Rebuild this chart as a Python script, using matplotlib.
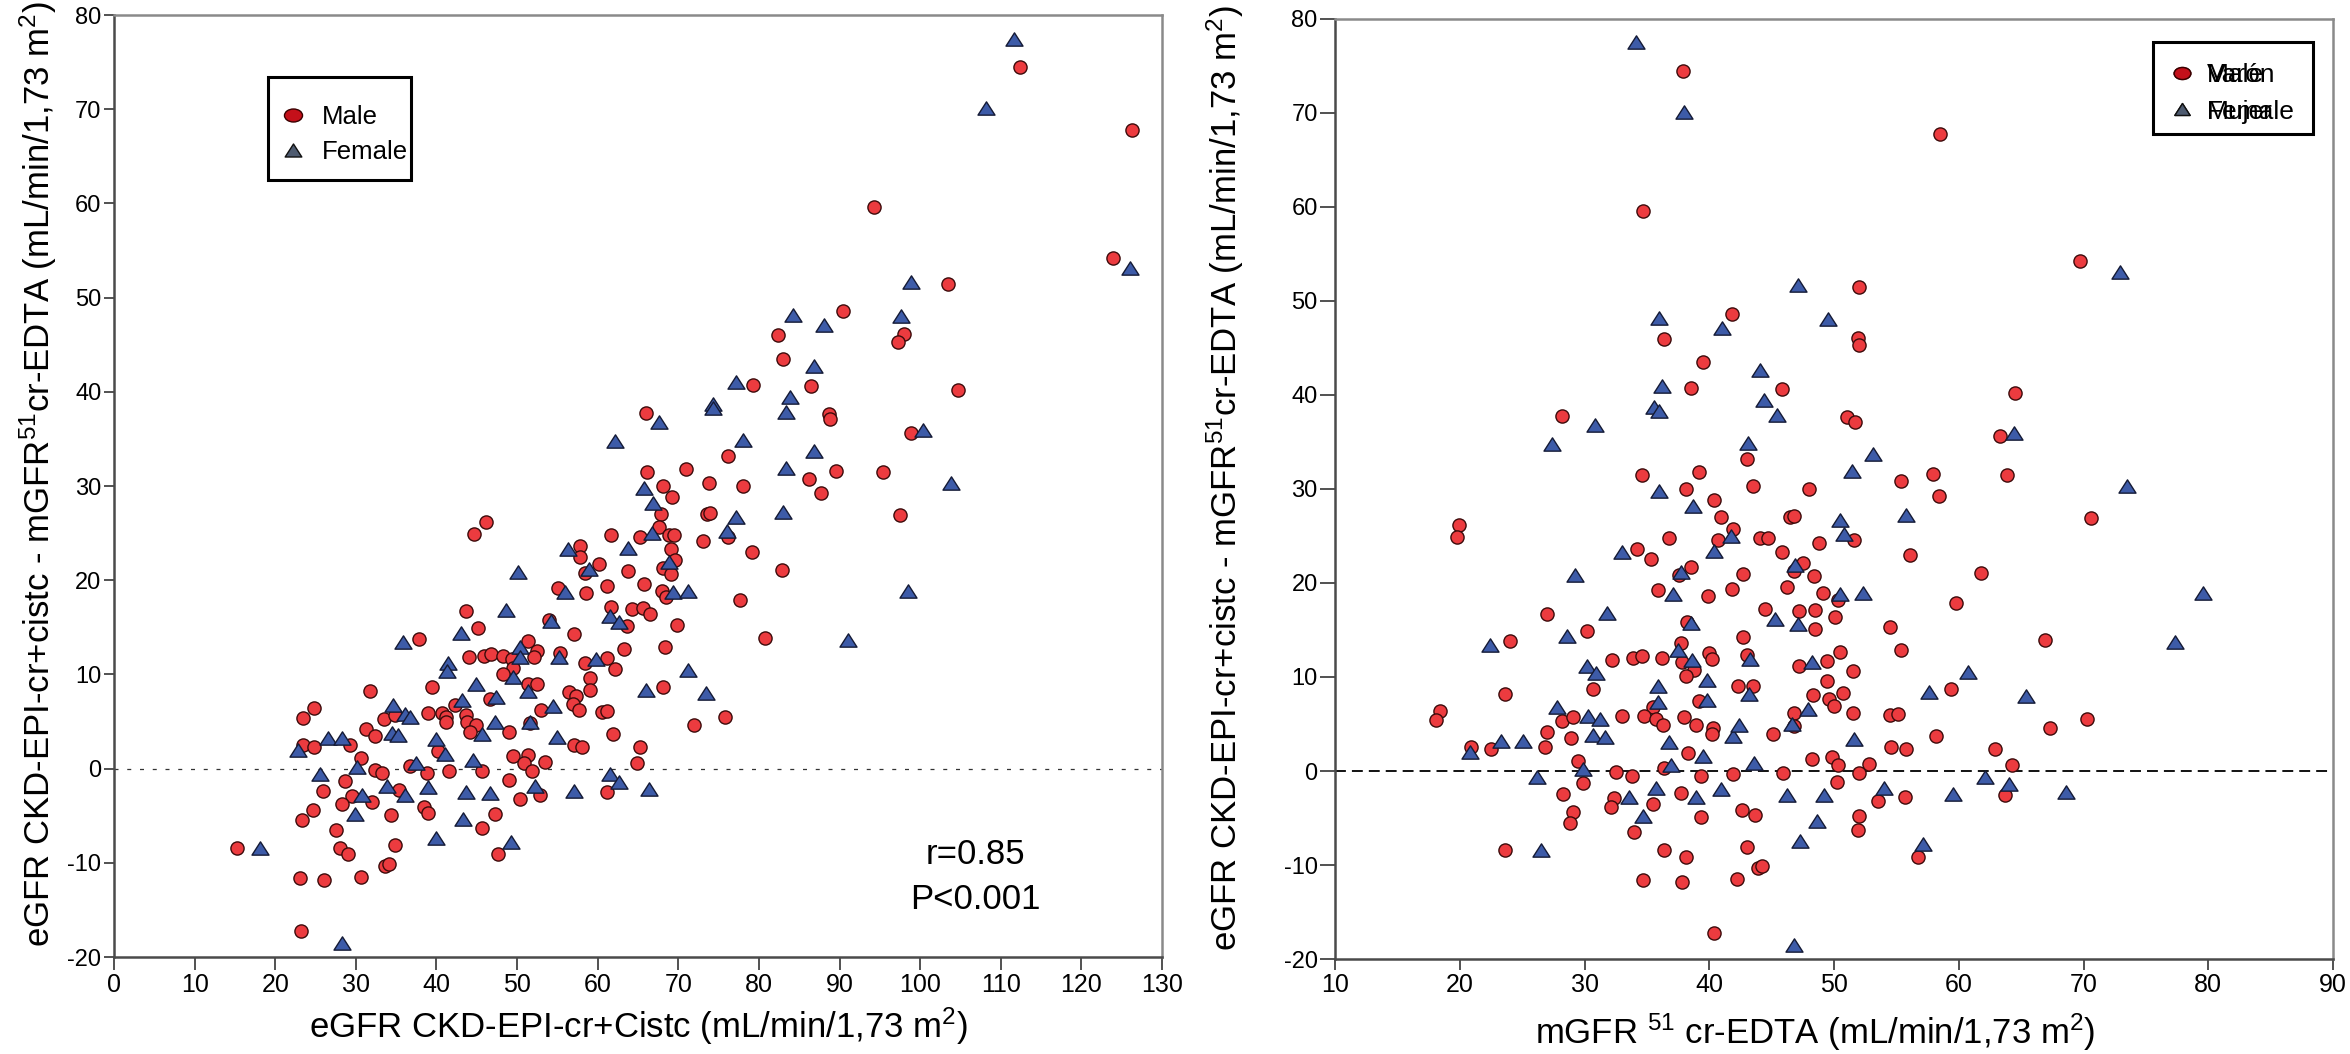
"""
    Bias of eGFR CKD-EPI-cr+cistc against measured 51Cr-EDTA GFR, by sex.
"""
import numpy as np
import matplotlib
matplotlib.use("Agg")
import matplotlib.pyplot as plt
from matplotlib.lines import Line2D
from matplotlib.patches import Rectangle
from matplotlib.path import Path

plt.rcParams["font.family"] = ["Liberation Sans", "DejaVu Sans"]
plt.rcParams["mathtext.fontset"] = "custom"
plt.rcParams["mathtext.rm"] = "Liberation Sans"
plt.rcParams["mathtext.it"] = "Liberation Sans:italic"
plt.rcParams["mathtext.bf"] = "Liberation Sans:bold"
plt.rcParams["axes.unicode_minus"] = False

# eGFR CKD-EPI-cr+cistc and the difference eGFR - mGFR
MALE_EGFR = [43.7, 45.1, 37.8, 44.0, 45.9, 46.8, 39.4, 31.8, 42.3, 46.6,
             24.8, 23.5, 33.5, 34.8, 38.9, 40.7, 41.2, 41.2, 43.7, 43.8,
             44.9, 44.1, 31.2, 32.4, 40.2, 29.3, 23.4, 24.8, 30.6, 32.4,
             33.3, 36.7, 38.8, 41.6, 45.7, 28.6, 25.9, 35.4, 29.5, 32.0,
             28.3, 34.4, 38.5, 39.0, 47.2, 24.7, 23.3, 45.6, 27.5, 34.9,
             28.0, 29.0, 47.6, 15.2, 33.6, 34.1, 23.1, 26.0, 30.7, 23.2,
             58.4, 60.2, 63.7, 68.1, 69.1, 82.9, 55.1, 58.5, 61.2, 65.8,
             68.0, 68.5, 77.7, 61.7, 64.2, 65.6, 66.5, 63.6, 69.8, 54.0,
             57.0, 51.3, 80.8, 52.5, 52.1, 48.2, 49.4, 55.3, 63.2, 68.3,
             58.4, 61.1, 62.1, 49.5, 48.2, 59.0, 59.0, 51.3, 52.5, 56.4,
             57.3, 56.9, 57.7, 53.0, 60.5, 61.2, 68.1, 75.8, 71.9, 51.6,
             49.0, 61.9, 57.1, 58.1, 65.2, 49.5, 51.3, 50.9, 53.5, 51.8,
             64.9, 61.2, 49.0, 52.9, 50.3,
             82.4, 83.0, 79.2, 86.4, 66.0, 76.2, 86.2, 66.1, 71.0, 68.1,
             69.2, 73.8, 78.0, 67.9, 73.5, 73.9, 46.1, 44.7, 61.6, 65.3,
             67.6, 68.9, 69.5, 76.2, 73.0, 79.1, 57.8, 57.8, 69.1, 69.6,
             112.4, 126.3, 94.3, 123.9, 103.5, 90.4, 98.0, 97.3, 104.7, 88.7,
             88.8, 98.9, 89.5, 95.4, 87.7, 97.5]
MALE_DIFF = [16.7, 14.9, 13.8, 11.8, 12.0, 12.2, 8.7, 8.2, 6.8, 7.4,
             6.4, 5.4, 5.3, 5.7, 5.9, 5.9, 5.5, 4.9, 5.7, 4.9,
             4.6, 3.9, 4.2, 3.5, 1.9, 2.5, 2.5, 2.3, 1.1, -0.1,
             -0.5, 0.3, -0.5, -0.3, -0.2, -1.3, -2.4, -2.3, -2.9, -3.5,
             -3.8, -4.9, -4.1, -4.7, -4.8, -4.4, -5.5, -6.3, -6.5, -8.1,
             -8.4, -9.1, -9.1, -8.4, -10.3, -10.1, -11.6, -11.8, -11.5, -17.2,
             20.8, 21.7, 21.0, 21.3, 20.7, 21.1, 19.2, 18.6, 19.4, 19.6,
             18.9, 18.2, 17.9, 17.2, 17.0, 17.1, 16.4, 15.1, 15.3, 15.8,
             14.3, 13.6, 13.9, 12.5, 11.9, 12.0, 11.6, 12.3, 12.7, 12.9,
             11.2, 11.7, 10.6, 10.7, 10.1, 9.6, 8.3, 9.0, 9.0, 8.1,
             7.7, 6.9, 6.2, 6.2, 6.0, 6.1, 8.7, 5.5, 4.6, 4.8,
             3.9, 3.7, 2.5, 2.3, 2.3, 1.3, 1.5, 0.6, 0.7, -0.2,
             0.6, -2.5, -1.2, -2.8, -3.2,
             46.0, 43.5, 40.7, 40.6, 37.8, 33.2, 30.8, 31.5, 31.8, 30.0,
             28.8, 30.3, 30.0, 27.0, 27.0, 27.1, 26.2, 24.9, 24.8, 24.6,
             25.7, 24.8, 24.8, 24.6, 24.2, 23.0, 23.6, 22.5, 23.3, 22.1,
             74.5, 67.8, 59.6, 54.2, 51.5, 48.6, 46.1, 45.3, 40.2, 37.7,
             37.1, 35.6, 31.6, 31.5, 29.3, 26.9]

FEMALE_EGFR = [43.0, 35.8, 41.4, 41.3, 44.9, 43.2, 47.4, 34.6, 36.1, 36.7,
               45.6, 47.3, 34.5, 35.2, 39.9, 41.1, 26.5, 28.3, 22.8, 30.1,
               37.5, 44.5, 25.6, 33.9, 36.1, 39.0, 43.7, 46.6, 30.8, 29.9,
               43.3, 39.9, 18.1, 28.3,
               50.1, 58.9, 68.8, 55.9, 69.3, 71.2, 48.6, 61.5, 62.7, 54.2,
               50.4, 50.4, 55.2, 59.8, 71.2, 49.5, 51.4, 54.5, 66.0, 73.4,
               51.6, 55.0, 61.5, 62.6, 66.4, 57.1, 52.2, 49.3,
               84.2, 86.8, 77.2, 83.9, 83.3, 74.3, 74.3, 67.6, 62.2, 78.0,
               86.8, 83.3, 65.8, 66.9, 77.2, 83.0, 66.7, 76.0, 56.3, 63.8,
               111.6, 108.1, 126.0, 98.8, 88.1, 97.6, 100.3, 103.8, 98.5, 91.0]
FEMALE_DIFF = [14.4, 13.4, 11.2, 10.4, 9.0, 7.3, 7.6, 6.8, 5.8, 5.5,
               3.7, 4.9, 3.8, 3.6, 3.1, 1.6, 3.2, 3.2, 2.0, 0.2,
               0.6, 0.9, -0.6, -1.8, -2.8, -1.9, -2.5, -2.6, -2.8, -4.8,
               -5.3, -7.4, -8.4, -18.5,
               20.9, 21.2, 21.9, 18.8, 18.8, 18.9, 16.8, 16.2, 15.6, 15.7,
               12.9, 11.8, 11.9, 11.6, 10.5, 9.7, 8.2, 6.6, 8.4, 8.0,
               5.0, 3.4, -0.6, -1.4, -2.2, -2.4, -1.8, -7.8,
               48.2, 42.7, 41.0, 39.5, 37.9, 38.7, 38.3, 36.8, 34.8, 34.9,
               33.7, 31.9, 29.8, 28.2, 26.7, 27.2, 25.0, 25.2, 23.3, 23.4,
               77.5, 70.1, 53.1, 51.7, 47.1, 48.1, 35.9, 30.3, 18.9, 13.7]

# mGFR 51Cr-EDTA follows from the y axis definition: diff = eGFR - mGFR
MALE_MGFR = np.array(MALE_EGFR) - np.array(MALE_DIFF)
FEMALE_MGFR = np.array(FEMALE_EGFR) - np.array(FEMALE_DIFF)

LEFT_XTICKS = list(range(0, 131, 10))
RIGHT_XTICKS = list(range(10, 91, 10))
YTICKS = list(range(-20, 81, 10))

YLABEL = "eGFR CKD-EPI-cr+cistc - mGFR$^{51}$cr-EDTA (mL/min/1,73 m$^{2}$)"
LEFT_XLABEL = "eGFR CKD-EPI-cr+Cistc (mL/min/1,73 m$^{2}$)"
RIGHT_XLABEL = "mGFR $^{51}$ cr-EDTA (mL/min/1,73 m$^{2}$)"

TRIANGLE = Path([(-1.0, -0.78), (1.0, -0.78), (0.0, 0.78), (-1.0, -0.78)], closed=True)
_circ = Path.unit_circle()
FLAT_CIRCLE = Path(_circ.vertices * np.array([1.0, 0.72]), _circ.codes)

MALE_FACE, MALE_EDGE = "#ec3b3f", "#3c0b0b"
FEMALE_FACE, FEMALE_EDGE = "#3d5ba8", "#141a35"


def draw_points(axes, male_x, female_x):
    """
        Scatter both sexes on one panel.
    """
    axes.scatter(male_x, MALE_DIFF, s=90, marker="o", facecolor=MALE_FACE,
                 edgecolor=MALE_EDGE, linewidths=1.0, zorder=3)
    axes.scatter(female_x, FEMALE_DIFF, s=150, marker=TRIANGLE, facecolor=FEMALE_FACE,
                 edgecolor=FEMALE_EDGE, linewidths=1.0, zorder=3)


def style_axes(axes, xticks, xlen, ylen):
    """
        Frame, ticks and limits like the SPSS output.
    """
    axes.set_xlim(xticks[0], xticks[-1])
    axes.set_ylim(-20, 80)
    axes.set_xticks(xticks)
    axes.set_yticks(YTICKS)
    for side in ("top", "right"):
        axes.spines[side].set_color("#8a8a8a")
        axes.spines[side].set_linewidth(1.8)
    for side in ("left", "bottom"):
        axes.spines[side].set_color("#4a4a4a")
        axes.spines[side].set_linewidth(1.8)
    axes.tick_params(axis="x", direction="out", length=xlen, width=1.2, color="#333333",
                     labelsize=18, pad=2)
    axes.tick_params(axis="y", direction="out", length=ylen, width=1.2, color="#333333",
                     labelsize=17, pad=2)


def legend_handles(size):
    """
        Proxy markers for the legend box.
    """
    male = Line2D([], [], ls="none", marker=FLAT_CIRCLE, markersize=size,
                  markerfacecolor="#c4101a", markeredgecolor="#3a0000", markeredgewidth=1.0)
    female = Line2D([], [], ls="none", marker=TRIANGLE, markersize=size - 1,
                    markerfacecolor="#4e5b70", markeredgecolor="#101010", markeredgewidth=1.0)
    return [male, female]


def add_legend(axes, labels, anchor, fontsize, msize, textpad, spacing):
    """
        Legend entries without frame; the box is drawn separately.
    """
    leg = axes.legend(legend_handles(msize), labels, loc="upper left", bbox_to_anchor=anchor,
                      borderaxespad=0, borderpad=0, fontsize=fontsize, frameon=False,
                      handlelength=0.8, handletextpad=textpad, labelspacing=spacing)
    return leg


def add_box(axes, x0, y0, x1, y1):
    """
        Thick black square around the legend.
    """
    axes.add_patch(Rectangle((x0, y0), x1 - x0, y1 - y0, transform=axes.transAxes,
                             fill=False, edgecolor="black", lw=2.2, zorder=5,
                             clip_on=False))


fig = plt.figure(figsize=(23.5, 10.54), dpi=100)
ax1 = fig.add_axes([0.0485, 0.092, 0.446, 0.8937])
ax2 = fig.add_axes([0.5681, 0.0901, 0.4247, 0.892])

# left panel: bias against eGFR
draw_points(ax1, MALE_EGFR, FEMALE_EGFR)
ax1.axhline(0, color="#333333", lw=0.9, ls=(0, (3.2, 7.0)), zorder=1)
style_axes(ax1, LEFT_XTICKS, 9.5, 7)
ax1.text(106.8, -9.1, "r=0.85", fontsize=25, ha="center", va="center")
ax1.text(106.8, -13.9, "P<0.001", fontsize=25, ha="center", va="center")
ax1.text(0.5, -0.086, LEFT_XLABEL, transform=ax1.transAxes, fontsize=25,
         ha="center", va="baseline")
ax1.text(-0.0611, 0.513, YLABEL, transform=ax1.transAxes, fontsize=25, rotation=90,
         rotation_mode="anchor", ha="center", va="baseline")
add_box(ax1, 0.147, 0.8248, 0.2834, 0.9342)
add_legend(ax1, ["Male", "Female"], (0.1613, 0.905), 18.5, 13, 0.72, 0.44)

# right panel: bias against measured GFR
draw_points(ax2, MALE_MGFR, FEMALE_MGFR)
ax2.axhline(0, color="#111111", lw=1.4, ls=(0, (5.6, 3.1)), zorder=1)
style_axes(ax2, RIGHT_XTICKS, 8, 10.5)
ax2.text(0.2004, -0.0904, RIGHT_XLABEL, transform=ax2.transAxes, fontsize=25,
         ha="left", va="baseline")
ax2.text(-0.0982, 0.511, YLABEL, transform=ax2.transAxes, fontsize=25, rotation=90,
         rotation_mode="anchor", ha="center", va="baseline")
add_box(ax2, 0.8196, 0.8777, 0.98, 0.9755)
first = add_legend(ax2, ["Male", "Female"], (0.8382, 0.9532), 19, 12, 0.55, 0.48)
ax2.add_artist(first)
add_legend(ax2, ["Varón", "Mujer"], (0.8382, 0.9532), 19, 12, 0.55, 0.48)

fig.savefig("out.png", dpi=100)
